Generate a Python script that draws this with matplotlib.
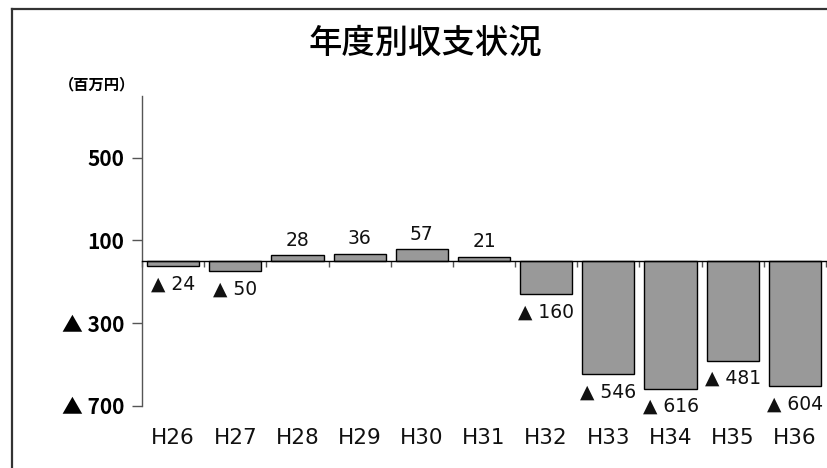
import matplotlib
matplotlib.use("Agg")
import matplotlib.pyplot as plt
from matplotlib.lines import Line2D
import numpy as np

categories = ["H26", "H27", "H28", "H29", "H30", "H31", "H32", "H33", "H34", "H35", "H36"]
values = [-24, -50, 28, 36, 57, 21, -160, -546, -616, -481, -604]
ytick_values = [500, 100, -300, -700]
ytick_labels = ["500", "100", "▲ 300", "▲ 700"]
title = "年度別収支状況"
unit_label = "（百万円）"

W, H = 827, 468
fig = plt.figure(figsize=(W / 100, H / 100), dpi=100)
fig.patch.set_facecolor("white")

ax = fig.add_axes([142 / W, 1 - 406 / H, (826 - 142) / W, (406 - 95.5) / H])
x = np.arange(len(categories))
ax.bar(x, values, width=0.84, color="#999999", edgecolor="black", linewidth=1.0, zorder=3)

ax.set_xlim(-0.5, len(categories) - 0.5)
ax.set_ylim(-700, 800)

ax.spines["top"].set_visible(False)
ax.spines["right"].set_visible(False)
ax.spines["left"].set_color("#555555")
ax.spines["left"].set_linewidth(1.0)
ax.spines["bottom"].set_position(("data", 0))
ax.spines["bottom"].set_color("black")
ax.spines["bottom"].set_linewidth(1.0)
ax.spines["bottom"].set_zorder(4)

latin = ["DejaVu Sans", "Noto Sans CJK JP"]
cjk = ["Noto Sans CJK JP", "DejaVu Sans"]

ax.set_yticks(ytick_values)
ax.set_yticklabels(ytick_labels, fontsize=15, fontweight="bold", family=cjk)
ax.tick_params(axis="y", direction="out", length=7, width=1, color="#555555", pad=6)

ax.set_xticks(x)
ax.set_xticklabels(categories, fontsize=15.5, family=latin, color="#111111")
ax.set_xticks(np.arange(len(categories) + 1) - 0.5, minor=True)
ax.tick_params(axis="x", which="major", length=0, pad=120)
ax.tick_params(axis="x", which="minor", direction="out", length=4, width=1, color="#555555")

for xi, v in zip(x, values):
    if v >= 0:
        ax.annotate(f"{v}", (xi, v), xytext=(0, 4), textcoords="offset points",
                    ha="center", va="bottom", fontsize=13.5, family=latin, color="#111111")
    else:
        ax.annotate(f"▲ {-v}", (xi, v), xytext=(0, -6), textcoords="offset points",
                    ha="center", va="top", fontsize=13.5, family=latin, color="#111111")

fig.text(425 / W, 1 - 43 / H, title, ha="center", va="center", fontsize=24,
         fontweight="medium", family=cjk)
fig.text(97 / W, 1 - 84 / H, unit_label, ha="center", va="center", fontsize=11,
         fontweight="bold", family=cjk)

# outer frame (left and top edges visible)
fig.add_artist(Line2D([12 / W, 12 / W], [0, 1 - 9 / H], transform=fig.transFigure,
                      color="#333333", linewidth=1.6))
fig.add_artist(Line2D([12 / W, 1], [1 - 9 / H, 1 - 9 / H], transform=fig.transFigure,
                      color="#333333", linewidth=1.6))

fig.savefig("out.png", dpi=100)
